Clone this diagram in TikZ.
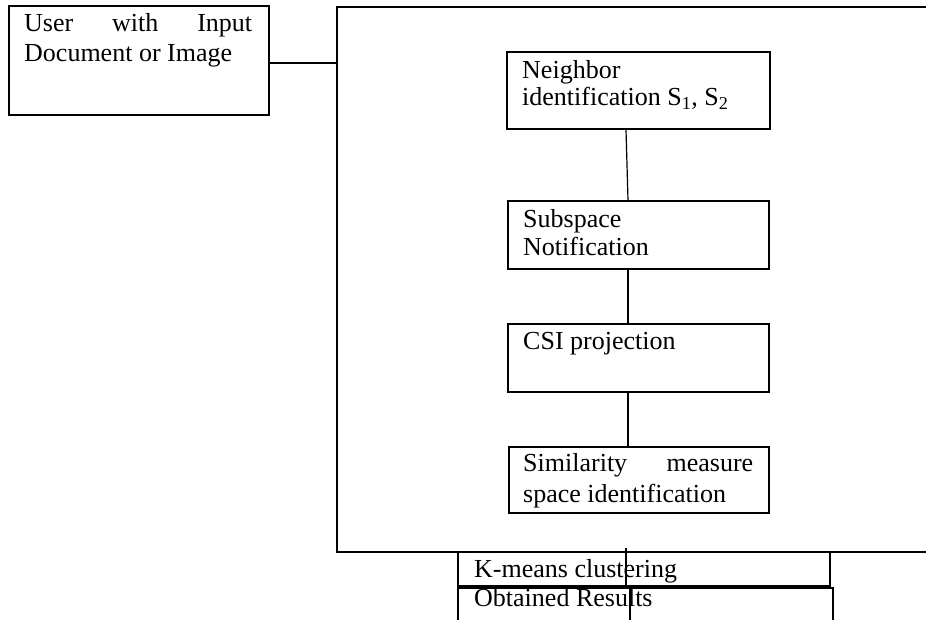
\documentclass[tikz,border=0pt]{standalone}
\usepackage{fontspec}
\setmainfont{Liberation Serif}
\begin{document}
\begin{tikzpicture}[x=1pt,y=-1pt,
  box/.style={draw, line width=1.5pt, inner sep=0pt, rectangle},
  thinbox/.style={draw, line width=1.2pt, inner sep=0pt, rectangle},
  link/.style={line width=1.2pt},
  txt/.style={anchor=base west, inner sep=0pt, font=\fontsize{26}{28}\selectfont}]
\useasboundingbox (0,0) rectangle (926,620);
\begin{scope}
\clip (0,0) rectangle (926,620);
% boxes
\node[box, minimum width=260pt, minimum height=109pt] (user) at (139,60.5) {};
\node[box, minimum width=603pt, minimum height=545pt] (big) at (638.5,279.5) {};
\node[box, minimum width=263pt, minimum height=77pt] (nb) at (638.5,90.5) {};
\node[box, minimum width=261pt, minimum height=68pt] (ss) at (638.5,235) {};
\node[box, minimum width=261pt, minimum height=68pt] (csi) at (638.5,358) {};
\node[box, minimum width=260pt, minimum height=66pt] (sim) at (639,480) {};
\node[thinbox, minimum width=372pt, minimum height=34pt] (km) at (644,569) {};
\node[thinbox, minimum width=375pt, minimum height=52pt] (ob) at (645.5,614) {};
% texts
\node[txt] (t1) at (24,32) {\makebox[228pt][s]{User\hfill with\hfill Input}};
\node[txt] (t2) at (24,62) {Document or Image};
\node[txt] (t3) at (522,79) {Neighbor};
\node[txt] (t4) at (522,106) {identification S\textsubscript{1}, S\textsubscript{2}};
\node[txt] (t5) at (523,228) {Subspace};
\node[txt] (t6) at (523,256) {Notification};
\node[txt] (t7) at (523,349) {CSI projection};
\node[txt] (t8) at (523,471) {\makebox[230pt][s]{Similarity\hfill measure}};
\node[txt] (t9) at (523,502) {space identification};
\node[txt] (t10) at (474,577) {K-means clustering};
\node[txt] (t11) at (474,606) {Obtained Results};
% connectors
\coordinate (c1) at (0,63);
\draw[link] (user.east |- c1) -- (big.west |- c1);
\draw[link] ([xshift=-12.5pt]nb.south) -- ([xshift=-10.5pt]ss.north);
\draw[link] ([xshift=-10.5pt]ss.south) -- ([xshift=-10.5pt]csi.north);
\draw[link] ([xshift=-10.5pt]csi.south) -- ([xshift=-11pt]sim.north);
\draw[link] ([xshift=-18pt,yshift=3pt]km.north) -- ([xshift=-18pt]km.south);
\draw[link] ([xshift=-15.5pt]ob.north) -- ([xshift=-15.5pt]ob.south);
\end{scope}
\end{tikzpicture}
\end{document}
